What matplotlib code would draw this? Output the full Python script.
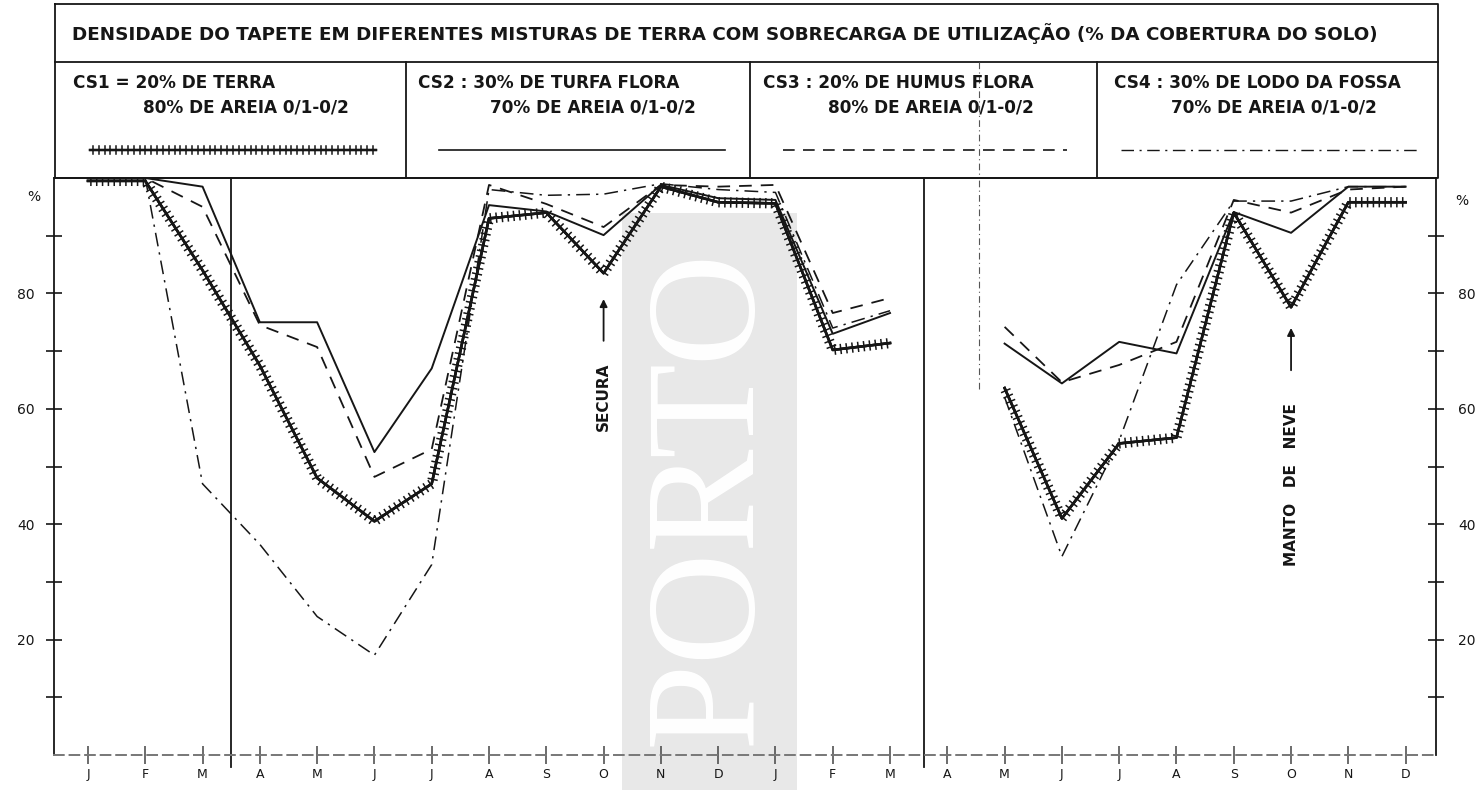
import numpy as np
import matplotlib
matplotlib.use("Agg")
import matplotlib.pyplot as plt
from matplotlib import patheffects as pe
from matplotlib.patches import Rectangle

nan = np.nan

# ---------------- data ----------------
months = ["J", "F", "M", "A", "M", "J", "J", "A", "S", "O", "N", "D",
          "J", "F", "M", "A", "M", "J", "J", "A", "S", "O", "N", "D"]

cs1 = [99.5, 99.5, 84, 67.5, 48, 40.5, 47, 93, 94, 83.5, 98.5, 95.8,
       95.6, 70.2, 71.4, nan, 63.6, 41, 54, 55, 94, 77.6, 95.8, 95.8]
cs2 = [100, 100, 98.5, 75, 75, 52.5, 67, 95.3, 94.2, 90.1, 98.8, 96.5,
       96.2, 73, 76.6, nan, 71.3, 64.4, 71.6, 69.6, 94.1, 90.5, 98.5, 98.5]
cs3 = [100, 100, 95, 74.5, 70.7, 48.2, 53, 98.8, 95.5, 91.5, 98.8, 98.5,
       98.8, 76.6, 79.2, nan, 74.2, 64.6, 67.6, 71.6, 96.2, 94, 98, 98.5]
cs4 = [100, 100, 47, 36.5, 24, 17.3, 33, 98, 97, 97.2, 99, 98,
       97.5, 74, 77, nan, 62, 34.4, 54.5, 81.5, 96, 96, 98.5, 98.5]

title = ("DENSIDADE DO TAPETE EM DIFERENTES MISTURAS DE TERRA COM "
         "SOBRECARGA DE UTILIZAÇÃO (% DA COBERTURA DO SOLO)")
leg1 = ["CS1 = 20% DE TERRA", "80% DE AREIA 0/1-0/2"]
leg2 = ["CS2 : 30% DE TURFA FLORA", "70% DE AREIA 0/1-0/2"]
leg3 = ["CS3 : 20% DE HUMUS FLORA", "80% DE AREIA 0/1-0/2"]
leg4 = ["CS4 : 30% DE LODO DA FOSSA", "70% DE AREIA 0/1-0/2"]
yticks_major = [20, 40, 60, 80]
yticks_minor = [10, 30, 50, 70, 90]

# ---------------- figure ----------------
W, H = 1482, 790
fig = plt.figure(figsize=(W / 100, H / 100), dpi=100)
INK = "#161616"
FONT = "DejaVu Sans"

bg = fig.add_axes([0, 0, 1, 1], zorder=0)
bg.set_xlim(0, W)
bg.set_ylim(H, 0)
bg.axis("off")

# watermark band
bg.add_patch(Rectangle((622, 213), 175, 600, color="#e8e8e8", lw=0))
bg.text(712, 497, "PORTO", rotation=90, ha="center", va="center",
        family="Liberation Serif", fontsize=112, color="white")

# header frame
L, R, T, B, MID = 55, 1438, 4, 178, 62
bg.plot([L, R, R, L, L], [T, T, B, B, T], color=INK, lw=1.3)
bg.plot([L, R], [MID, MID], color=INK, lw=1.3)
for xd in (406, 750, 1097):
    bg.plot([xd, xd], [MID, B], color=INK, lw=1.3)
bg.plot([979, 979], [MID, B], color="#555", lw=0.8, ls=(0, (6, 3, 1, 3)))

bg.text(72, 34, title, ha="left", va="center", fontsize=13.2,
        fontweight="bold", family=FONT, color=INK)

legs = [(leg1, 73, 143), (leg2, 418, 490), (leg3, 763, 828), (leg4, 1114, 1171)]
for (lines, x1, x2) in legs:
    bg.text(x1, 83, lines[0], ha="left", va="center", fontsize=12.2,
            fontweight="bold", family=FONT, color=INK)
    bg.text(x2, 108, lines[1], ha="left", va="center", fontsize=12.2,
            fontweight="bold", family=FONT, color=INK)

cross_fx = [pe.withTickedStroke(angle=90, spacing=4.2, length=0.75, linewidth=1.1),
            pe.withTickedStroke(angle=-90, spacing=4.2, length=0.75, linewidth=1.1),
            pe.Normal()]
bg.plot([90, 376], [150, 150], color=INK, lw=1.6, path_effects=cross_fx)
bg.plot([439, 725], [150, 150], color=INK, lw=1.2)
bg.plot([783, 1067], [150, 150], color=INK, lw=1.2, ls=(0, (7, 5)))
bg.plot([1121, 1419], [150, 150], color=INK, lw=1.0, ls=(0, (9, 4, 1.5, 4)))

bg.text(34, 197, "%", ha="center", va="center", fontsize=10, family=FONT, color=INK)
bg.text(1462, 201, "%", ha="center", va="center", fontsize=10, family=FONT, color=INK)

# ---------------- main plot ----------------
ax = fig.add_axes([54 / W, 1 - 755 / H, (1436 - 54) / W, (755 - 178) / H], zorder=1)
ax.patch.set_alpha(0)
x = np.arange(len(months))
ax.set_xlim(-0.593, 23.53)
ax.set_ylim(0, 100)


def plot_runs(values, **kw):
    v = np.asarray(values, dtype=float)
    ok = ~np.isnan(v)
    start = None
    for i in range(len(v) + 1):
        good = i < len(v) and ok[i]
        if good and start is None:
            start = i
        elif not good and start is not None:
            ax.plot(x[start:i], v[start:i], **kw)
            start = None


plot_runs(cs4, color=INK, lw=1.1, ls=(0, (9, 4, 1.5, 4)))
plot_runs(cs3, color=INK, lw=1.3, ls=(0, (7, 5)))
plot_runs(cs2, color=INK, lw=1.4)
plot_runs(cs1, color=INK, lw=1.8, path_effects=cross_fx)

# separators
for xs in (2.5, 14.6):
    ax.plot([xs, xs], [-2, 100], color=INK, lw=1.3, clip_on=False)
ax.plot([15.55, 15.55], [63.5, 100], color="#555", lw=0.8, ls=(0, (6, 3, 1, 3)))

# annotations
ax.text(9, 62.0, "SECURA", rotation=90, ha="center", va="center",
        fontsize=11, fontweight="bold", family=FONT, color=INK)
ax.annotate("", xy=(9, 79.5), xytext=(9, 71.3),
            arrowprops=dict(arrowstyle="-|>", color=INK, lw=1.3, mutation_scale=11))
ax.text(21, 46.8, "MANTO   DE   NEVE", rotation=90, ha="center", va="center",
        fontsize=11, fontweight="bold", family=FONT, color=INK)
ax.annotate("", xy=(21, 74.5), xytext=(21, 66.2),
            arrowprops=dict(arrowstyle="-|>", color=INK, lw=1.3, mutation_scale=11))

for s in ("left", "top"):
    ax.spines[s].set_color(INK)
    ax.spines[s].set_linewidth(1.3)
ax.spines["right"].set_visible(False)
ax.spines["bottom"].set_color("#777")
ax.spines["bottom"].set_linewidth(1.4)
ax.spines["bottom"].set_linestyle((0, (5, 3)))

ax.set_xticks(x)
ax.set_xticklabels(months, fontsize=9, family=FONT, color=INK)
ax.tick_params(axis="x", direction="inout", length=13, width=1.1, pad=3, color="#444")
ax.set_yticks(yticks_major)
ax.set_yticklabels([str(v) for v in yticks_major], fontsize=10, family=FONT, color=INK)
ax.set_yticks(yticks_minor, minor=True)
ax.tick_params(axis="y", which="both", direction="inout", length=12, width=1.2,
               pad=8, color=INK)

ax2 = ax.twinx()
ax2.set_ylim(0, 100)
ax2.patch.set_alpha(0)
for s in ("left", "top", "bottom"):
    ax2.spines[s].set_visible(False)
ax2.spines["right"].set_color(INK)
ax2.spines["right"].set_linewidth(1.3)
ax2.set_yticks(yticks_major)
ax2.set_yticklabels([str(v) for v in yticks_major], fontsize=10, family=FONT, color=INK)
ax2.set_yticks(yticks_minor, minor=True)
ax2.tick_params(axis="y", which="both", direction="inout", length=12, width=1.2,
                pad=10, color=INK)

fig.savefig("out.png", dpi=100)
